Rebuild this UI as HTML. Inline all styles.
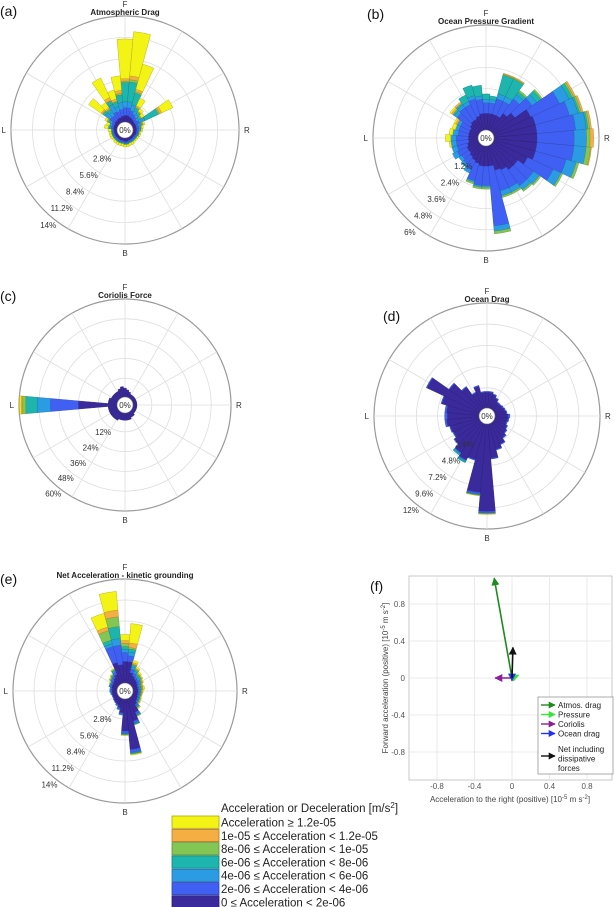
<!DOCTYPE html>
<html><head><meta charset="utf-8">
<style>
html,body{margin:0;padding:0;background:#fff;}
svg{display:block;font-family:"Liberation Sans",sans-serif;}
</style></head>
<body>
<svg id="fig" width="614" height="907" viewBox="0 0 614 907" xmlns="http://www.w3.org/2000/svg">
<rect x="0" y="0" width="614" height="907" fill="#fff"/>
</svg>
<script>
// ---- Data (percent frequency per 10° direction bin, bins centred at 0,10,...,350 clockwise from F) ----
const categories = ["0 ≤ Acceleration < 2e-06","2e-06 ≤ Acceleration < 4e-06","4e-06 ≤ Acceleration < 6e-06","6e-06 ≤ Acceleration < 8e-06","8e-06 ≤ Acceleration < 1e-05","1e-05 ≤ Acceleration < 1.2e-05","Acceleration ≥ 1.2e-05"];
const binAngles = [0,10,20,30,40,50,60,70,80,90,100,110,120,130,140,150,160,170,180,190,200,210,220,230,240,250,260,270,280,290,300,310,320,330,340,350];

const aC0=[1.0,1.0,0.9,0.8,0.7,0.6,0.6,0.6,0.6,0.6,0.6,0.6,0.5,0.5,0.5,0.5,0.5,0.6,0.6,0.5,0.5,0.5,0.5,0.5,0.5,0.5,0.5,0.5,0.6,0.6,0.6,0.7,0.7,0.8,0.8,0.9];
const aC1=[1.0,1.0,0.8,0.6,0.5,0.4,0.6,0.3,0.3,0.3,0.2,0.2,0.2,0.2,0.2,0.2,0.2,0.2,0.2,0.2,0.2,0.2,0.2,0.2,0.2,0.2,0.2,0.2,0.3,0.3,0.4,0.8,0.7,0.9,0.8,0.9];
const aC2=[0.8,0.8,0.8,0.5,0.4,0.3,0.8,0.3,0.2,0.2,0.1,0.1,0.1,0.1,0.1,0.1,0.1,0.1,0.1,0.1,0.1,0.1,0.1,0.1,0.1,0.1,0.1,0.1,0.2,0.2,0.3,0.8,0.6,1.1,0.7,0.9];
const aC3=[2.5,2.6,1.6,0.4,0.3,0.3,1.9,0.2,0.1,0.1,0.1,0.1,0.1,0.1,0.1,0.1,0.1,0.1,0.1,0.1,0.1,0.1,0.1,0.1,0.1,0.1,0.1,0.1,0.2,0.1,0.2,0.3,0.4,0.5,0.6,1.0];
const aC4=[0.2,0.3,0.2,0.1,0.1,0.1,0.2,0.1,0,0,0,0,0,0,0,0,0,0,0,0,0,0,0,0,0,0,0,0,0,0,0.1,0.1,0.1,0.1,0.1,0.2];
const aC5=[0.3,0.5,0.3,0.2,0.1,0.1,0.3,0.1,0.1,0,0,0,0,0,0,0,0,0,0,0,0,0,0,0,0,0,0,0,0,0,0.1,0.2,0.2,0.4,0.3,0.4];
const aC6=[5.2,5.8,3.4,1.1,0.4,0.4,1.6,0.2,0.2,0.2,0.2,0.2,0.2,0.2,0.2,0.3,0.3,0.3,0.3,0.3,0.3,0.3,0.3,0.2,0.3,0.3,0.3,0.4,0.5,0.4,0.3,2.0,0.8,2.8,1.2,1.9];

const bC0=[1.0,1.0,1.0,1.0,1.3,1.6,2.4,2.5,2.5,2.5,2.5,2.5,2.2,1.8,1.8,1.6,1.5,1.2,1.2,1.2,1.1,1.0,0.9,0.8,0.8,0.7,0.6,0.6,0.6,0.6,0.6,0.7,0.8,0.8,0.9,1.0];
const bC1=[0.6,0.6,0.9,0.9,1.0,1.2,1.8,2.0,2.2,2.1,2.1,1.8,1.6,1.1,1.1,1.1,1.2,3.4,1.1,1.1,1.0,0.6,0.5,0.5,0.6,0.6,0.7,0.7,0.6,0.6,0.6,0.9,0.9,0.9,1.0,0.8];
const bC2=[0.2,0.2,0.3,0.3,0.3,0.3,0.6,0.5,0.6,0.7,0.7,0.6,0.5,0.4,0.3,0.3,0.3,0.3,0.1,0.1,0.1,0.2,0.2,0.2,0.3,0.3,0.3,0.3,0.3,0.2,0.2,0.2,0.2,0.2,0.2,0.2];
const bC3=[0.3,0.2,1.1,1.1,0.2,0.3,0.2,0.1,0.1,0,0,0,0,0,0,0,0,0,0,0,0,0,0,0,0,0,0,0,0,0,0,0.1,0.1,0.4,0.6,0.6];
const bC4=[0,0,0.05,0.05,0.1,0.1,0.1,0.1,0.1,0.2,0.25,0.15,0.1,0.1,0.1,0.1,0.1,0.15,0.1,0.1,0.1,0,0,0,0,0,0,0,0,0,0,0,0,0,0,0];
const bC5=[0,0,0.05,0.05,0,0,0.1,0.1,0.1,0.2,0.05,0,0,0,0,0,0,0,0,0,0,0,0,0,0,0,0,0,0,0,0.1,0.1,0.1,0,0,0];
const bC6=[0,0,0,0,0,0,0,0,0,0,0,0,0,0,0,0,0,0,0,0,0,0,0,0,0,0,0.1,0.3,0.2,0.2,0.1,0.1,0,0,0,0];

const cC0=[6,5,4,3,3,3,3,3,3,3,3,3,3,3,4,4,5,5,5,5,5,6,6,6,6,6,6,24,6,6,5,5,5,5,6,7];
const cC1=[0,0,0,0,0,0,0,0,0,0,0,0,0,0,0,0,0,0,0,0,0,0,0,0,0,0,0,17,0,0,0,0,0,0,0,0];
const cC2=[0,0,0,0,0,0,0,0,0,0,0,0,0,0,0,0,0,0,0,0,0,0,0,0,0,0,0,8,0,0,0,0,0,0,0,0];
const cC3=[0,0,0,0,0,0,0,0,0,0,0,0,0,0,0,0,0,0,0,0,0,0,0,0,0,0,0,7,0,0,0,0,0,0,0,0];
const cC4=[0,0,0,0,0,0,0,0,0,0,0,0,0,0,0,0,0,0,0,0,0,0,0,0,0,0,0,2,0,0,0,0,0,0,0,0];
const cC5=[0,0,0,0,0,0,0,0,0,0,0,0,0,0,0,0,0,0,0,0,0,0,0,0,0,0,0,0.8,0,0,0,0,0,0,0,0];
const cC6=[0,0,0,0,0,0,0,0,0,0,0,0,0,0,0,0,0,0,0,0,0,0,0,0,0,0,0,1,0,0,0,0,0,0,0,0];

const dC0=[1.9,1.9,1.7,1.4,1.1,1.1,1.2,1.3,1.4,1.6,1.6,1.5,1.7,1.9,2.2,2.7,3.1,4.0,10.0,7.9,4.3,4.7,4.3,3.7,3.4,3.5,3.8,3.7,3.8,4.5,6.7,4.4,3.2,2.1,2.7,1.9];
const dC1=[0.1,0.1,0.1,0.1,0.1,0.1,0.1,0.1,0.1,0.2,0.1,0.1,0.1,0.1,0.1,0.1,0.1,0.1,0.2,0.2,0.1,0.1,0.1,0.1,0.1,0.1,0.2,0.3,0.2,0.1,0.1,0.1,0.1,0.1,0.1,0.1];
const dC2=[0,0,0,0,0,0,0,0,0,0,0,0,0,0,0,0,0,0,0.05,0.05,0,0.1,0.1,0,0,0,0,0,0,0,0,0,0,0,0,0];
const dC3=[0,0,0,0,0,0,0,0,0,0,0,0,0,0,0,0,0,0,0,0.05,0,0.15,0.15,0,0,0,0,0,0,0,0,0,0,0,0,0];
const dC4=[0,0,0,0,0,0,0,0,0,0,0,0,0,0,0,0,0,0,0.05,0.05,0,0,0,0,0,0,0,0,0,0,0,0,0,0,0,0];
const dC5=[0,0,0,0,0,0,0,0,0,0,0,0,0,0,0,0,0,0,0,0,0,0,0,0,0,0,0,0,0,0,0,0,0,0,0,0];
const dC6=[0,0,0,0,0,0,0,0,0,0,0,0,0,0,0,0,0,0,0.05,0.03,0,0,0,0,0,0,0,0,0,0,0,0,0,0,0,0];

const eC0=[3.0,3.0,1.6,1.3,1.1,1.0,0.9,0.8,0.8,0.8,0.8,0.8,0.9,1.0,1.3,2.2,3.2,6.9,4.4,2.0,1.4,1.1,1.0,0.9,0.8,0.8,0.8,0.8,0.8,0.9,0.9,1.0,1.2,1.5,3.0,2.6];
const eC1=[1.2,0.8,0.5,0.4,0.3,0.3,0.3,0.2,0.2,0.2,0.2,0.2,0.2,0.2,0.3,0.3,0.3,0.4,0.3,0.2,0.2,0.1,0.1,0.1,0.1,0.1,0.1,0.2,0.2,0.2,0.2,0.3,0.3,0.4,2.2,2.6];
const eC2=[0.4,0.5,0.3,0.3,0.2,0.2,0.2,0.2,0.2,0.1,0.1,0.1,0.1,0.1,0.1,0.1,0.1,0.1,0.1,0.1,0.1,0.1,0,0,0,0,0.1,0.1,0.1,0.1,0.1,0.1,0.1,0.2,0.4,0.9];
const eC3=[0.4,0.4,0.3,0.2,0.2,0.2,0.1,0.1,0.1,0.1,0.1,0.1,0.1,0.1,0.1,0.1,0.1,0.1,0.1,0,0,0,0,0,0,0,0,0,0,0.1,0.1,0.1,0.1,0.1,0.5,1.6];
const eC4=[0.4,0.2,0.1,0.1,0.1,0.1,0.1,0.1,0.1,0.1,0.1,0.1,0.1,0.1,0.1,0.1,0.05,0.05,0.05,0,0,0,0,0,0,0,0,0,0,0,0,0.1,0.1,0.1,1.3,1.3];
const eC5=[0.4,0.6,0.2,0.1,0.1,0.1,0.1,0.1,0.1,0.1,0.1,0,0,0,0,0,0,0,0,0,0,0,0,0,0,0,0,0,0,0,0,0,0,0,0.5,0.9];
const eC6=[0.8,2.6,0.3,0.2,0.2,0.1,0.1,0.1,0.2,0.1,0,0.1,0.1,0.1,0.1,0,0,0.1,0.05,0,0,0,0,0,0,0,0,0,0,0,0.1,0.1,0.1,0.1,1.9,2.5];

const aTicks=["2.8%","5.6%","8.4%","11.2%","14%"];
const bTicks=["1.2%","2.4%","3.6%","4.8%","6%"];
const cTicks=["12%","24%","36%","48%","60%"];
const dTicks=["2.4%","4.8%","7.2%","9.6%","12%"];
const eTicks=["2.8%","5.6%","8.4%","11.2%","14%"];
const aMax=14, bMax=6, cMax=60, dMax=12, eMax=14;

// Panel (f) vectors [x, y] in 1e-5 m s^-2
const vecNames=["Atmos. drag","Pressure","Coriolis","Ocean drag","Net including dissipative forces"];
const vecX=[-0.19,0.07,-0.18,0.0,0.01];
const vecY=[1.08,0.03,0.0,-0.03,0.33];
const fXTicks=[-0.8,-0.4,0,0.4,0.8];
const fYTicks=[0.8,0.4,0,-0.4,-0.8];

// ---- Rendering ----
const NS="http://www.w3.org/2000/svg";
const svg=document.getElementById('fig');
const COLORS=["#3a2a9c","#4060f4","#2b9ce4","#1db5ad","#84c653","#f5ae42","#f4f316"];
const STROKES=["#2a1d70","#2c44b0","#1e70a8","#13827c","#5e9039","#b07c2e","#a8a710"];
function mk(tag,attrs,parent){const e=document.createElementNS(NS,tag);for(const k in attrs)e.setAttribute(k,attrs[k]);(parent||svg).appendChild(e);return e;}
function txt(x,y,s,opt,parent){const e=mk('text',Object.assign({x:x,y:y},opt||{}),parent);e.textContent=s;return e;}

function polar(cx,cy,r,deg){const a=deg*Math.PI/180;return [cx+r*Math.sin(a),cy-r*Math.cos(a)];}
function wedge(cx,cy,r0,r1,a0,a1){
  const p1=polar(cx,cy,r0,a0),p2=polar(cx,cy,r1,a0),p3=polar(cx,cy,r1,a1),p4=polar(cx,cy,r0,a1);
  return `M${p1[0].toFixed(2)},${p1[1].toFixed(2)}L${p2[0].toFixed(2)},${p2[1].toFixed(2)}A${r1},${r1} 0 0 1 ${p3[0].toFixed(2)},${p3[1].toFixed(2)}L${p4[0].toFixed(2)},${p4[1].toFixed(2)}A${r0},${r0} 0 0 0 ${p1[0].toFixed(2)},${p1[1].toFixed(2)}Z`;
}

function rose(id,cx,cy,R,maxV,series,ticks,title,letter,lx,ly){
  const g=mk('g',{});
  
  
  const hole=7;
  const rs=v=>hole+v/maxV*(R-hole);
  const oc=mk('circle',{cx:cx,cy:cy,r:R,fill:'#fff',stroke:'#9a9a9a','stroke-width':1.2},g);
  
  
  for(let k=1;k<5;k++){
    const c=mk('circle',{cx:cx,cy:cy,r:rs(maxV*k/5),fill:'none',stroke:'#dedede','stroke-width':0.8},g);
    
    
  }
  for(let a=0;a<360;a+=30){
    const p0=polar(cx,cy,hole,a),p1=polar(cx,cy,R,a);
    const l=mk('line',{x1:p0[0],y1:p0[1],x2:p1[0],y2:p1[1],stroke:'#dedede','stroke-width':0.8},g);
    
    
  }
  for(let i=0;i<binAngles.length;i++){
    let cum=0;
    for(let c=0;c<series.length;c++){
      const v=series[c][i];
      if(v<=0)continue;
      const r0=rs(cum),r1=rs(cum+v);cum+=v;
      const p=mk('path',{d:wedge(cx,cy,r0,r1,binAngles[i]-5,binAngles[i]+5),fill:COLORS[c],stroke:STROKES[c],'stroke-width':0.4},g);
      
      
    }
  }
  const hc=mk('circle',{cx:cx,cy:cy,r:hole+1,fill:'#fff',stroke:'#777','stroke-width':0.6},g);
  
  
  const z=txt(cx,cy+3,'0%',{'font-size':8,fill:'#333','text-anchor':'middle'},g);
  
  
  for(let k=1;k<=5;k++){
    const p=polar(cx,cy,rs(maxV*k/5)+8,219);
    const t=txt(p[0],p[1]+3,ticks[k-1],{'font-size':8,fill:'#333','text-anchor':'middle'},g);
    
    
  }
  const dirs=[['F',cx,cy-R-9,'middle'],['R',cx+R+5,cy+3,'start'],['B',cx,cy+R+12,'middle'],['L',cx-R-5,cy+3,'end']];
  dirs.forEach(d=>{const t=txt(d[1],d[2],d[0],{'font-size':8,fill:'#333','text-anchor':d[3]},g);
    
    });
  const tt=txt(cx,cy-R-1,title,{'font-size':8,'font-weight':'bold',fill:'#222','text-anchor':'middle'},g);
  
  
  const pl=txt(lx,ly,letter,{'font-size':14,fill:'#111'},g);
  
  
}

rose('a',125,130,114,aMax,[aC0,aC1,aC2,aC3,aC4,aC5,aC6],aTicks,'Atmospheric Drag','(a)',0,16);
rose('b',486,138,113,bMax,[bC0,bC1,bC2,bC3,bC4,bC5,bC6],bTicks,'Ocean Pressure Gradient','(b)',367,19);
rose('c',125,405,106,cMax,[cC0,cC1,cC2,cC3,cC4,cC5,cC6],cTicks,'Coriolis Force','(c)',0,301);
rose('d',487,416,113,dMax,[dC0,dC1,dC2,dC3,dC4,dC5,dC6],dTicks,'Ocean Drag','(d)',383,321);
rose('e',125,691,112,eMax,[eC0,eC1,eC2,eC3,eC4,eC5,eC6],eTicks,'Net Acceleration - kinetic grounding','(e)',0,584);

// ---- Panel (f) ----
(function(){
  const g=mk('g',{});
  
  
  const x0=512,y0=678,sx=93.75,sy=92.5,L=409,Rr=612,T=576,B=780;
  const X=v=>x0+v*sx, Y=v=>y0-v*sy;
  const bg=mk('rect',{x:L,y:T,width:Rr-L,height:B-T,fill:'#fff',stroke:'#bbb','stroke-width':0.8},g);
  
  
  fXTicks.forEach(v=>{
    const l=mk('line',{x1:X(v),y1:T,x2:X(v),y2:B,stroke:'#e4e4e4','stroke-width':0.8},g);
    
    
    const t=txt(X(v),B+9,String(v),{'font-size':8,fill:'#555','text-anchor':'middle'},g);
    
    
  });
  fYTicks.forEach(v=>{
    const l=mk('line',{x1:L,y1:Y(v),x2:Rr,y2:Y(v),stroke:'#e4e4e4','stroke-width':0.8},g);
    
    
    const t=txt(L-4,Y(v)+3,String(v),{'font-size':8,fill:'#555','text-anchor':'end'},g);
    
    
  });
  const vcol=["#1f8a1f","#33e633","#8e1f96","#2233ee","#111111"];
  const defs=mk('defs',{},g);
  vcol.forEach((c,i)=>{
    const m=mk('marker',{id:'ah'+i,viewBox:'0 0 10 10',refX:9,refY:5,markerWidth:5,markerHeight:5,orient:'auto-start-reverse'},defs);
    mk('path',{d:'M0,0L10,5L0,10Z',fill:c},m);
  });
  const order=[2,0,1,3,4];
  order.forEach(i=>{
    const l=mk('line',{x1:X(0),y1:Y(0),x2:X(vecX[i]),y2:Y(vecY[i]),stroke:vcol[i],'stroke-width':1.6,'marker-end':'url(#ah'+i+')'},g);
    
    
  });
  const lg=mk('g',{},g);
  
  
  mk('rect',{x:538,y:697,width:75,height:77,fill:'#fff',stroke:'#888','stroke-width':0.7},lg);
  const ly=[705,714.5,724,733.5,756];
  [0,1,2,3,4].forEach(i=>{
    const l=mk('line',{x1:541,y1:ly[i],x2:555,y2:ly[i],stroke:vcol[i],'stroke-width':1.4,'marker-end':'url(#ah'+i+')'},lg);
    
    
  });
  const labs=[["Atmos. drag",708],["Pressure",717.5],["Coriolis",727],["Ocean drag",736.5],["Net including",752],["dissipative",761.5],["forces",771]];
  labs.forEach(s=>{const t=txt(558,s[1],s[0],{'font-size':8,fill:'#222'},lg);
    
    });
  const xl=mk('text',{x:510,y:802,'font-size':8,fill:'#444','text-anchor':'middle'},g);
  xl.innerHTML='Acceleration to the right (positive) [10<tspan dy="-3" font-size="6">-5</tspan><tspan dy="3"> m s</tspan><tspan dy="-3" font-size="6">-2</tspan><tspan dy="3">]</tspan>';
  
  
  const yl=mk('text',{x:0,y:0,'font-size':8,fill:'#444','text-anchor':'middle',transform:'translate(388,678) rotate(-90)'},g);
  yl.innerHTML='Forward acceleration (positive) [10<tspan dy="-3" font-size="6">-5</tspan><tspan dy="3"> m s</tspan><tspan dy="-3" font-size="6">-2</tspan><tspan dy="3">]</tspan>';
  
  
  const pl=txt(370,591,'(f)',{'font-size':14,fill:'#111'},g);
  
  
})();

// ---- Colour legend ----
(function(){
  const g=mk('g',{});
  
  
  const t=mk('text',{x:221,y:812,'font-size':11.5,fill:'#222'},g);
  t.innerHTML='Acceleration or Deceleration [m/s<tspan dy="-4" font-size="8">2</tspan><tspan dy="4">]</tspan>';
  
  
  for(let r=0;r<7;r++){
    const c=6-r;
    const y=816+r*13.3;
    const p=mk('rect',{x:172,y:y,width:47,height:12.3,fill:COLORS[c],stroke:STROKES[c],'stroke-width':0.8},g);
    
    
    const e=txt(221,y+10.5,categories[c],{'font-size':11.5,fill:'#222'},g);
    
    
  }
})();
</script>
</body></html>
